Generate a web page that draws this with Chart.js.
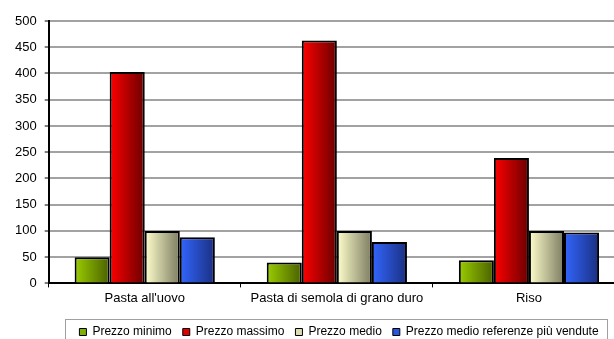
<!DOCTYPE html>
<html lang="it">
<head>
<meta charset="utf-8">
<title>Prezzi</title>
<script src="https://cdn.jsdelivr.net/npm/chart.js@4/dist/chart.umd.min.js"></script>
<style>
  html, body { margin:0; padding:0; background:#fff; overflow:hidden; }
  #grafico { display:block; }
</style>
</head>
<body>
<canvas id="grafico" width="640" height="348"></canvas>
<script>
// ===== DATI =====
const categorie = ["Pasta all'uovo", "Pasta di semola di grano duro", "Riso"];
const serie = ["Prezzo minimo", "Prezzo massimo", "Prezzo medio", "Prezzo medio referenze più vendute"];
const prezzoMinimo = [50, 40, 44];
const prezzoMassimo = [403, 463, 239];
const prezzoMedio = [100, 100, 100];
const prezzoReferenze = [88, 79, 97];
const tickY = [0, 50, 100, 150, 200, 250, 300, 350, 400, 450, 500];

// ===== COLORI =====
const colori = [
  {chiaro:"#9acd00", scuro:"#4a6000", legenda:"#80b000"},
  {chiaro:"#ff0000", scuro:"#6a0000", legenda:"#e00000"},
  {chiaro:"#ffffcc", scuro:"#7c7c62", legenda:"#dcdcb0"},
  {chiaro:"#3366ff", scuro:"#1a2f80", legenda:"#2a55dd"}
];
const percCategoria = 0.73;
const font = "'Liberation Sans', Arial, sans-serif";

// sfumatura orizzontale dentro ogni barra
function sfumatura(ctx){
  const col = colori[ctx.datasetIndex];
  const chart = ctx.chart;
  const x = chart.scales.x;
  if(ctx.type!=="data" || !x || !x.width) return col.chiaro;
  const cat = x.width / categorie.length;
  const gruppo = cat * percCategoria;
  const barra = gruppo / chart.data.datasets.length;
  const sx = x.getPixelForValue(ctx.dataIndex) - gruppo/2 + ctx.datasetIndex*barra;
  const g = chart.ctx.createLinearGradient(sx, 0, sx+barra, 0);
  g.addColorStop(0, col.chiaro);
  g.addColorStop(1, col.scuro);
  return g;
}

// cornice della legenda + spostamento orizzontale
const cornice = {
  id:"cornice",
  afterLayout(chart){
    const l = chart.legend;
    l.left += 23; l.right += 23;
  },
  afterDraw(chart){
    const hb = chart.legend.legendHitBoxes;
    if(!hb || !hb.length) return;
    const c = chart.ctx;
    const sx = hb[0].left - 14;
    const dx = hb[hb.length-1].left + hb[hb.length-1].width + 9;
    const top = hb[0].top - 7;
    c.save();
    c.strokeStyle = "#a0a0a0";
    c.lineWidth = 1;
    c.strokeRect(Math.round(sx)+0.5, Math.round(top)+0.5, Math.round(dx-sx), 60);
    c.restore();
  }
};

const valori = [prezzoMinimo, prezzoMassimo, prezzoMedio, prezzoReferenze];

new Chart(document.getElementById("grafico"), {
  type:"bar",
  data:{
    labels: categorie,
    datasets: serie.map((nome,i)=>({
      label: nome,
      data: valori[i],
      backgroundColor: sfumatura,
      borderColor: "#000",
      borderWidth: 2,
      categoryPercentage: percCategoria,
      barPercentage: 1
    }))
  },
  options:{
    responsive:false,
    devicePixelRatio:1,
    animation:false,
    events:[],
    layout:{ padding:{left:7, right:15, top:21, bottom:0} },
    scales:{
      x:{
        grid:{ drawOnChartArea:false, tickLength:4, tickColor:"#000", offset:true },
        border:{ color:"#000", width:2 },
        ticks:{ color:"#000", font:{family:font, size:13}, padding:3, maxRotation:0 },
        afterFit(scale){ scale.height += 6; }
      },
      y:{
        min:0, max:500,
        afterBuildTicks(scale){ scale.ticks = tickY.map(v=>({value:v})); },
        grid:{ color:"#a2a2a2", lineWidth:2, tickLength:4, tickColor:"#000", tickWidth:1 },
        border:{ color:"#000", width:2 },
        ticks:{ color:"#000", font:{family:font, size:13}, padding:8 }
      }
    },
    plugins:{
      tooltip:{ enabled:false },
      legend:{
        position:"bottom",
        labels:{
          color:"#000",
          font:{family:font, size:12},
          boxWidth:7, boxHeight:7, padding:11,
          generateLabels(){
            return serie.map((nome,i)=>({
              text:nome, fillStyle:colori[i].legenda, strokeStyle:"#000",
              lineWidth:1, datasetIndex:i, hidden:false
            }));
          }
        }
      }
    }
  },
  plugins:[cornice]
});
</script>
</body>
</html>
